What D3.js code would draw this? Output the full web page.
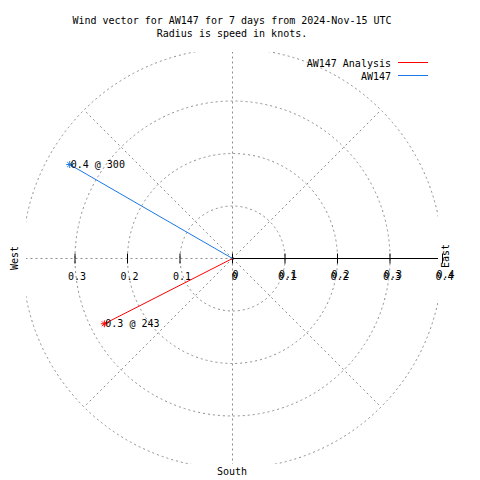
<!DOCTYPE html>
<html><head><meta charset="utf-8">
<script src="https://cdn.jsdelivr.net/npm/d3@7"></script>
<style>body{margin:0;background:#fff}text{font-family:"DejaVu Sans Mono",monospace;font-size:10px;fill:#000}</style>
</head><body><svg id="c" width="480" height="480"></svg>
<script>
const seriesNames = ["AW147 Analysis", "AW147"];
const seriesColors = ["#ff0000", "#1a78e6"];
const speeds = [0.274, 0.358];
const directions = [243, 300];
const rTicks = [0, 0.1, 0.2, 0.3, 0.4];
const gridAngles = [0, 45, 90, 135, 180, 225, 270, 315];
const titleLines = ["Wind vector for AW147 for 7 days from 2024-Nov-15 UTC", "Radius is speed in knots."];

const svg = d3.select("#c");
const cx = 232.5, cy = 258.5;
const r = d3.scaleLinear().domain([0, 0.4]).range([0, 210]);
const fmt = d3.format(".1f");
const pt = (spd, dir) => { const a = dir * Math.PI / 180; return [cx + r(spd) * Math.sin(a), cy - r(spd) * Math.cos(a)]; };

svg.append("defs").append("clipPath").attr("id", "pa").append("rect")
  .attr("x", 26).attr("y", 52).attr("width", 412).attr("height", 412);

const grid = svg.append("g").attr("clip-path", "url(#pa)")
  .attr("stroke", "#8c8c8c").attr("stroke-dasharray", "2,3").attr("fill", "none");
grid.selectAll("circle").data(rTicks.slice(1)).join("circle")
  .attr("cx", cx).attr("cy", cy).attr("r", d => r(d));
grid.selectAll("line").data(gridAngles).join("line")
  .attr("x1", cx).attr("y1", cy)
  .attr("x2", d => pt(0.4, d)[0]).attr("y2", d => pt(0.4, d)[1]);

// radial axis (east)
svg.append("line").attr("clip-path", "url(#pa)").attr("x1", cx).attr("y1", cy).attr("x2", cx + r(0.4)).attr("y2", cy)
  .attr("stroke", "#000");
const eastTicks = rTicks, westTicks = rTicks.filter(d => d > 0 && d < 0.4);
svg.selectAll(".te").data(eastTicks).join("line").attr("class", "te")
  .attr("x1", d => cx + r(d)).attr("x2", d => cx + r(d)).attr("y1", cy - 5).attr("y2", cy + 5).attr("stroke", "#000");
svg.selectAll(".tw").data(westTicks).join("line").attr("class", "tw")
  .attr("x1", d => cx - r(d)).attr("x2", d => cx - r(d)).attr("y1", cy - 5).attr("y2", cy + 5).attr("stroke", "#000");
const tf = d => d === 0 ? "0" : String(d);
svg.selectAll(".lw").data(westTicks).join("text").attr("class", "lw")
  .attr("x", d => cx - r(d) + 2).attr("y", 280).attr("text-anchor", "middle").text(tf);
[[0, 0], [1, -2]].forEach(([ox, oy], i) => {
  svg.selectAll(".le" + i).data(eastTicks).join("text").attr("class", "le" + i)
    .attr("x", d => cx + r(d) + 2 + ox).attr("y", 280 + oy).attr("text-anchor", "middle").text(tf);
});

// vectors
const idx = d3.range(speeds.length);
svg.selectAll(".vec").data(idx).join("line").attr("class", "vec")
  .attr("x1", cx).attr("y1", cy)
  .attr("x2", i => pt(speeds[i], directions[i])[0]).attr("y2", i => pt(speeds[i], directions[i])[1])
  .attr("stroke", i => seriesColors[i]);
idx.forEach(i => {
  const [x, y] = pt(speeds[i], directions[i]);
  const g = svg.append("g").attr("stroke", seriesColors[i]);
  [0, 45, 90, 135].forEach(a => {
    const t = a * Math.PI / 180;
    g.append("line").attr("x1", x - 3.5 * Math.cos(t)).attr("y1", y - 3.5 * Math.sin(t))
      .attr("x2", x + 3.5 * Math.cos(t)).attr("y2", y + 3.5 * Math.sin(t));
  });
  svg.append("text").attr("x", x + 1).attr("y", y + 3.5).text(fmt(speeds[i]) + " @ " + directions[i]);
});

// titles
svg.selectAll(".ti").data(titleLines).join("text").attr("class", "ti")
  .attr("x", 232).attr("y", (d, i) => 24 + i * 12.5).attr("text-anchor", "middle").text(d => d);

// legend
idx.forEach(i => {
  const y = 62.5 + i * 13;
  svg.append("text").attr("x", 391).attr("y", y + 4).attr("text-anchor", "end").text(seriesNames[i]);
  svg.append("line").attr("x1", 398).attr("x2", 428).attr("y1", y).attr("y2", y).attr("stroke", seriesColors[i]);
});

// compass labels
svg.append("text").attr("transform", "translate(18,258) rotate(-90)").attr("text-anchor", "middle").text("West");
svg.append("text").attr("transform", "translate(449,256) rotate(-90)").attr("text-anchor", "middle").text("East");
svg.append("text").attr("x", 232).attr("y", 475).attr("text-anchor", "middle").text("South");
</script></body></html>
